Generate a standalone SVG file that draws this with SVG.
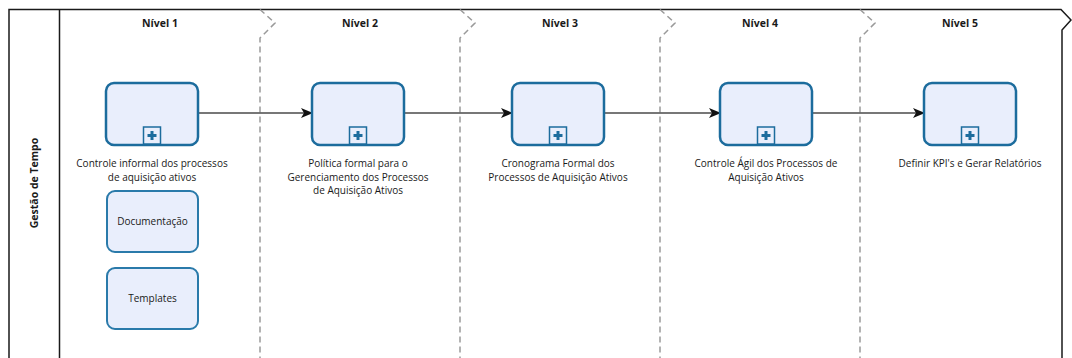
<svg xmlns="http://www.w3.org/2000/svg" width="1072" height="358" viewBox="0 0 1072 358">
<style>
.frame{fill:none;stroke:#1a1a1a;stroke-width:1.5}
.sep{fill:none;stroke:#9a9a9a;stroke-width:1.5;stroke-dasharray:6 4}
.title{font-family:"Open Sans","Noto Sans",sans-serif;font-weight:bold;font-size:10.5px;fill:#1a1a1a;text-anchor:middle}
.lbl{font-family:"Open Sans","Noto Sans",sans-serif;font-size:10px;fill:#1a1a1a;text-anchor:middle}
.task{fill:#e9eefc;stroke:#1c6c9d;stroke-width:2.5}
.small{fill:#e9eefc;stroke:#2a7aaa;stroke-width:2}
.plusbox{fill:#e9eefc;stroke:#1c6c9d;stroke-width:1.5}
.plus{fill:#1c6c9d}
.conn{fill:none;stroke:#4a4a4a;stroke-width:1.5}
</style>
<defs>
<marker id="arr" viewBox="0 0 12 10" refX="11" refY="5" markerWidth="12" markerHeight="10" markerUnits="userSpaceOnUse" orient="auto">
<path d="M0,0 L12,5 L0,10 L3,5 Z" fill="#111"/>
</marker>
<g id="sub">
<rect class="plusbox" x="-8.5" y="-18" width="17" height="17"/>
<rect class="plus" x="-1.5" y="-14" width="3" height="9"/>
<rect class="plus" x="-4.5" y="-11" width="9" height="3"/>
</g>
</defs>
<rect width="1072" height="358" fill="#ffffff"/>
<g id="pool">
<path class="frame" d="M9,370 L9,9.5 L1061,9.5 L1071,20 L1062,30 L1062,370"/>
<path class="frame" d="M59.5,9.5 L59.5,370"/>
<text class="title" transform="translate(38,183) rotate(-90)">Gestão de Tempo</text>
</g>
<g id="separators">
<path class="sep" d="M260,9.5 L275,23 L260,38 L260,370"/>
<path class="sep" d="M460,9.5 L475,23 L460,38 L460,370"/>
<path class="sep" d="M660,9.5 L675,23 L660,38 L660,370"/>
<path class="sep" d="M860,9.5 L875,23 L860,38 L860,370"/>
</g>
<g id="titles">
<text class="title" x="160" y="27">Nível 1</text>
<text class="title" x="360" y="27">Nível 2</text>
<text class="title" x="560" y="27">Nível 3</text>
<text class="title" x="760" y="27">Nível 4</text>
<text class="title" x="960" y="27">Nível 5</text>
</g>
<g id="connectors">
<path class="conn" d="M198,113 L312,113" marker-end="url(#arr)"/>
<path class="conn" d="M404,113 L512,113" marker-end="url(#arr)"/>
<path class="conn" d="M604,113 L720,113" marker-end="url(#arr)"/>
<path class="conn" d="M812,113 L924,113" marker-end="url(#arr)"/>
</g>
<g id="task1">
<rect class="task" x="106" y="83" width="92" height="62" rx="8"/>
<use href="#sub" x="152" y="145"/>
<text class="lbl" x="152" y="167">Controle informal dos processos</text>
<text class="lbl" x="152" y="180.5">de aquisição ativos</text>
</g>
<g id="task2">
<rect class="task" x="312" y="83" width="92" height="62" rx="8"/>
<use href="#sub" x="358" y="145"/>
<text class="lbl" x="358" y="167">Política formal para o</text>
<text class="lbl" x="358" y="180.5">Gerenciamento dos Processos</text>
<text class="lbl" x="358" y="194">de Aquisição Ativos</text>
</g>
<g id="task3">
<rect class="task" x="512" y="83" width="92" height="62" rx="8"/>
<use href="#sub" x="558" y="145"/>
<text class="lbl" x="558" y="167">Cronograma Formal dos</text>
<text class="lbl" x="558" y="180.5">Processos de Aquisição Ativos</text>
</g>
<g id="task4">
<rect class="task" x="720" y="83" width="92" height="62" rx="8"/>
<use href="#sub" x="766" y="145"/>
<text class="lbl" x="766" y="167">Controle Ágil dos Processos de</text>
<text class="lbl" x="766" y="180.5">Aquisição Ativos</text>
</g>
<g id="task5">
<rect class="task" x="924" y="83" width="92" height="62" rx="8"/>
<use href="#sub" x="970" y="145"/>
<text class="lbl" x="970" y="167">Definir KPI's e Gerar Relatórios</text>
</g>
<g id="doc">
<rect class="small" x="107" y="191" width="91" height="61" rx="8"/>
<text class="lbl" x="152.5" y="225">Documentação</text>
</g>
<g id="templates">
<rect class="small" x="107" y="268" width="91" height="61" rx="8"/>
<text class="lbl" x="152.5" y="302">Templates</text>
</g>
</svg>
